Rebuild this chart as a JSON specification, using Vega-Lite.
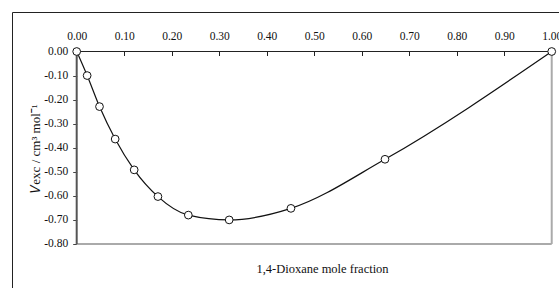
{
  "$schema": "https://vega.github.io/schema/vega-lite/v6.json",
  "width": 560,
  "height": 290,
  "autosize": {"type": "none"},
  "padding": {"left": 12, "top": 12, "right": 0, "bottom": 0},
  "background": "white",
  "config": {"view": {"stroke": "#222", "strokeWidth": 1}, "font": "Liberation Serif", "axis": {"labelOverlap": false, "labelFont": "Liberation Serif", "titleFont": "Liberation Serif"}},
  "resolve": {"axis": {"x": "independent", "y": "independent"}},
  "data": {"values": [
    {"x": 0.0, "v": 0.0},
    {"x": 0.022, "v": -0.10},
    {"x": 0.048, "v": -0.229},
    {"x": 0.081, "v": -0.364},
    {"x": 0.121, "v": -0.492},
    {"x": 0.171, "v": -0.603},
    {"x": 0.235, "v": -0.68},
    {"x": 0.321, "v": -0.70},
    {"x": 0.451, "v": -0.652},
    {"x": 0.649, "v": -0.448},
    {"x": 1.0, "v": 0.0}
  ]},
  "layer": [
    {
      "mark": {"type": "line", "color": "#111", "strokeWidth": 1.2, "interpolate": "monotone"},
      "encoding": {
        "x": {"field": "x", "type": "quantitative",
          "scale": {"domain": [-0.1362, 1.0427], "nice": false, "zero": false},
          "axis": {"orient": "top", "offset": -39.5, "values": [0, 0.1, 0.2, 0.3, 0.4, 0.5, 0.6, 0.7, 0.8, 0.9, 1.0],
            "format": ".2f", "domain": false, "grid": false, "tickSize": -4, "tickColor": "#222", "tickWidth": 1,
            "labelPadding": 14, "labelFont": "Liberation Serif", "labelFontSize": 11.5, "labelColor": "#111",
            "labelFlush": false, "labelOverlap": false,
            "title": "1,4-Dioxane mole fraction", "titleX": 310, "titleY": 217, "titleBaseline": "middle",
            "titleAlign": "center", "titleFontWeight": "normal", "titleFontSize": 12.5, "titleFont": "Liberation Serif", "titleColor": "#111"}},
        "y": {"field": "v", "type": "quantitative",
          "scale": {"domain": [-1.0412, 0.1642], "nice": false, "zero": false},
          "axis": {"orient": "left", "offset": -64.7, "values": [0, -0.1, -0.2, -0.3, -0.4, -0.5, -0.6, -0.7, -0.8],
            "labelExpr": "(datum.value < 0 ? '-' : '') + format(abs(datum.value), '.2f')",
            "domain": false, "grid": false, "tickSize": 4, "tickColor": "#444", "tickWidth": 1,
            "labelPadding": 5, "labelFont": "Liberation Serif", "labelFontSize": 11.5, "labelColor": "#111",
            "labelOverlap": false,
            "title": "𝑉exc / cm³ mol⁻¹", "titleX": -41, "titleY": 136, "titleAngle": -90, "titleBaseline": "middle",
            "titleAlign": "center", "titleFontWeight": "normal", "titleFontSize": 13, "titleFont": "Liberation Serif", "titleColor": "#111"}}
      }
    },
    {
      "data": {"values": [{}]},
      "mark": {"type": "rule", "color": "#aaaaaa", "strokeWidth": 2},
      "encoding": {"x": {"datum": 0, "type": "quantitative", "axis": null}, "x2": {"datum": 1}, "y": {"datum": -0.8, "type": "quantitative", "axis": null}}
    },
    {
      "data": {"values": [{}]},
      "mark": {"type": "rule", "color": "#aaaaaa", "strokeWidth": 2},
      "encoding": {"x": {"datum": 1, "type": "quantitative", "axis": null}, "y": {"datum": 0, "type": "quantitative", "axis": null}, "y2": {"datum": -0.8}}
    },
    {
      "data": {"values": [{}]},
      "mark": {"type": "rule", "color": "#222", "strokeWidth": 1},
      "encoding": {"x": {"datum": 0, "type": "quantitative", "axis": null}, "x2": {"datum": 1}, "y": {"datum": 0, "type": "quantitative", "axis": null}}
    },
    {
      "data": {"values": [{}]},
      "mark": {"type": "rule", "color": "#555", "strokeWidth": 2},
      "encoding": {"x": {"datum": 0, "type": "quantitative", "axis": null}, "y": {"datum": 0, "type": "quantitative", "axis": null}, "y2": {"datum": -0.8}}
    },
    {
      "mark": {"type": "point", "shape": "circle", "size": 60, "filled": false, "fill": "white", "fillOpacity": 1, "stroke": "#111", "strokeWidth": 1, "opacity": 1},
      "encoding": {
        "x": {"field": "x", "type": "quantitative", "axis": null},
        "y": {"field": "v", "type": "quantitative", "axis": null}
      }
    }
  ]
}
